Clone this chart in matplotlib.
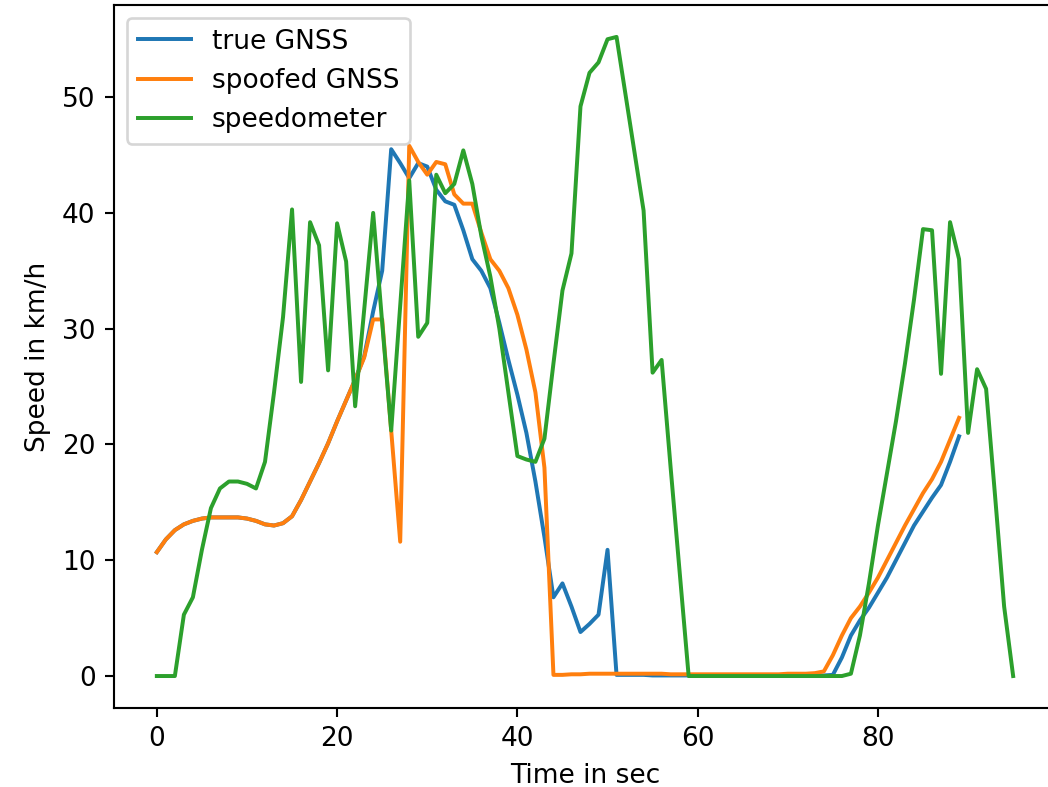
import matplotlib
matplotlib.use('Agg')
import matplotlib.pyplot as plt
import numpy as np

# ---- data (1 sample per second) ----
true_gnss = [10.7, 11.8, 12.6, 13.1, 13.4, 13.6, 13.7, 13.7, 13.7, 13.7,
             13.6, 13.4, 13.1, 13.0, 13.2, 13.8, 15.2, 16.8, 18.4, 20.1,
             22.0, 23.8, 25.6, 27.6, 31.5, 35.0, 45.5, 44.3, 43.0, 44.3,
             44.0, 42.0, 41.0, 40.7, 38.5, 36.0, 35.0, 33.5, 30.5, 27.3,
             24.3, 21.0, 16.8, 12.0, 6.8, 8.0, 6.0, 3.8, 4.5, 5.3,
             10.9, 0.1, 0.1, 0.1, 0.1, 0.05, 0.05, 0.05, 0.05, 0.05,
             0.05, 0.05, 0.05, 0.05, 0.05, 0.05, 0.05, 0.05, 0.05, 0.05,
             0.05, 0.05, 0.05, 0.05, 0.05, 0.1, 1.6, 3.5, 4.8, 5.9,
             7.2, 8.5, 10.0, 11.5, 13.0, 14.2, 15.4, 16.5, 18.5, 20.7]

spoofed_gnss = [10.7, 11.8, 12.6, 13.1, 13.4, 13.6, 13.7, 13.7, 13.7, 13.7,
                13.6, 13.4, 13.1, 13.0, 13.2, 13.8, 15.2, 16.8, 18.4, 20.1,
                22.0, 23.8, 25.6, 27.5, 30.8, 30.8, 21.2, 11.6, 45.8, 44.4,
                43.3, 44.4, 44.2, 41.6, 40.8, 40.8, 38.3, 36.0, 35.0, 33.5,
                31.2, 28.2, 24.5, 18.0, 0.1, 0.1, 0.15, 0.15, 0.2, 0.2,
                0.2, 0.2, 0.2, 0.2, 0.2, 0.2, 0.2, 0.15, 0.15, 0.15,
                0.15, 0.15, 0.15, 0.15, 0.15, 0.15, 0.15, 0.15, 0.15, 0.15,
                0.2, 0.2, 0.2, 0.25, 0.4, 1.8, 3.5, 5.0, 6.0, 7.2,
                8.5, 10.0, 11.5, 13.0, 14.4, 15.8, 17.0, 18.5, 20.4, 22.3]

speedometer = [0.0, 0.0, 0.0, 5.3, 6.8, 10.9, 14.5, 16.2, 16.8, 16.8,
               16.6, 16.2, 18.5, 24.5, 31.0, 40.3, 25.4, 39.2, 37.2, 26.4,
               39.1, 35.8, 23.3, 31.6, 40.0, 30.5, 21.2, 32.0, 42.8, 29.3,
               30.5, 43.3, 41.7, 42.5, 45.4, 42.5, 38.0, 34.5, 30.0, 24.5,
               19.0, 18.7, 18.5, 20.5, 27.0, 33.3, 36.5, 49.2, 52.1, 53.0,
               55.0, 55.2, 50.2, 45.2, 40.2, 26.2, 27.3, 18.0, 9.0, 0.0,
               0.0, 0.0, 0.0, 0.0, 0.0, 0.0, 0.0, 0.0, 0.0, 0.0,
               0.0, 0.0, 0.0, 0.0, 0.0, 0.0, 0.0, 0.2, 3.5, 8.0,
               13.0, 17.5, 22.0, 27.0, 32.5, 38.6, 38.5, 26.1, 39.2, 36.0,
               21.0, 26.5, 24.8, 15.5, 6.0, 0.0]

t_gnss = np.arange(len(true_gnss))
t_speedo = np.arange(len(speedometer))

# figure is a crop of a default 6.4x4.8 plot at 190 dpi
fig = plt.figure(figsize=(1048 / 190, 787 / 190), dpi=190)
ax = fig.add_axes([0.1088, 0.1004, 0.8988, 0.8933])

ax.plot(t_gnss, true_gnss, label='true GNSS')
ax.plot(t_gnss, spoofed_gnss, label='spoofed GNSS')
ax.plot(t_speedo, speedometer, label='speedometer')

ax.set_xlabel('Time in sec')
ax.set_ylabel('Speed in km/h')
ax.legend(loc='upper left')

fig.savefig('out.png', dpi=190)
